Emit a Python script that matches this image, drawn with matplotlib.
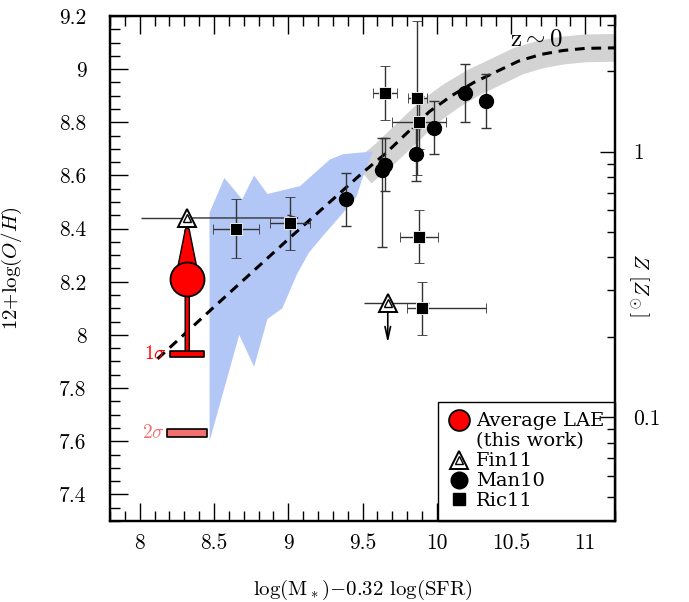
import numpy as np
import matplotlib
matplotlib.use('Agg')
import matplotlib.pyplot as plt
from matplotlib.lines import Line2D
from matplotlib.path import Path
from matplotlib.patches import FancyArrowPatch
from matplotlib.ticker import MultipleLocator, LogLocator, NullFormatter, FixedLocator
import matplotlib.patheffects as pe
from matplotlib.legend_handler import HandlerTuple

plt.rcParams['mathtext.fontset'] = 'cm'
plt.rcParams['font.family'] = ['cmr10', 'DejaVu Serif']
plt.rcParams['axes.unicode_minus'] = False

# ---------------- data ----------------
xlim = (7.8, 11.2)
ylim = (7.3, 9.2)
solar = 8.69

xticks = [8, 8.5, 9, 9.5, 10, 10.5, 11]
xticklabels = ['8', '8.5', '9', '9.5', '10', '10.5', '11']
yticks = [7.4, 7.6, 7.8, 8.0, 8.2, 8.4, 8.6, 8.8, 9.0, 9.2]
yticklabels = ['7.4', '7.6', '7.8', '8', '8.2', '8.4', '8.6', '8.8', '9', '9.2']
z_ticks = [0.1, 1]
z_ticklabels = ['0.1', '1']

# blue shaded region
blue_x = [8.47, 8.47, 8.57, 8.69, 8.77, 8.86, 9.08, 9.28, 9.37, 9.57,
          9.50, 9.46, 9.37, 9.23, 9.14, 9.06, 8.96, 8.86, 8.77, 8.67]
blue_y = [7.60, 8.46, 8.59, 8.51, 8.60, 8.53, 8.56, 8.66, 8.68, 8.69,
          8.59, 8.52, 8.46, 8.37, 8.31, 8.23, 8.10, 8.06, 7.88, 8.00]

# z~0 relation (dashed) and its scatter band
curve_x = [8.12, 8.49, 9.00, 9.28, 9.50, 9.65, 9.80, 9.95, 10.10, 10.25,
           10.40, 10.55, 10.70, 10.85, 11.00, 11.20]
curve_y = [7.91, 8.10, 8.36, 8.50, 8.61, 8.68, 8.76, 8.84, 8.90, 8.95,
           8.99, 9.03, 9.055, 9.07, 9.078, 9.08]
band_start = 9.45

# Man10
man_x = [9.39, 9.63, 9.65, 9.86, 9.98, 10.19, 10.33]
man_y = [8.51, 8.62, 8.64, 8.68, 8.78, 8.91, 8.88]
man_yerr_lo = [0.10, 0.29, 0.10, 0.10, 0.10, 0.11, 0.10]
man_yerr_hi = [0.10, 0.12, 0.10, 0.10, 0.10, 0.11, 0.10]

# Ric11
ric_x = [8.65, 9.01, 9.65, 9.87, 9.88, 9.88, 9.90]
ric_y = [8.40, 8.42, 8.91, 8.89, 8.80, 8.37, 8.10]
ric_xerr_lo = [0.155, 0.135, 0.08, 0.065, 0.18, 0.13, 0.10]
ric_xerr_hi = [0.155, 0.135, 0.08, 0.065, 0.18, 0.13, 0.43]
ric_yerr_lo = [0.11, 0.10, 0.10, 0.29, 0.10, 0.10, 0.10]
ric_yerr_hi = [0.11, 0.10, 0.10, 0.29, 0.10, 0.10, 0.10]

# Fin11
fin_x = [8.32, 9.67]
fin_y = [8.44, 8.12]
fin_xerr_lo = [0.31, 0.16]
fin_xerr_hi = [0.0, 0.28]
fin_x_arrow_to = [9.08, None]
fin_y_arrow_to = [None, 7.97]

# Average LAE (this work)
lae_x = 8.32
lae_y = 8.21
lae_up = 8.42
lae_1sig = 7.93
lae_2sig = 7.63

legend_labels = ['Average LAE', '(this work)', 'Fin11', 'Man10', 'Ric11']

# ---------------- figure ----------------
fig = plt.figure(figsize=(6.89, 6.02), dpi=100)
ax = fig.add_axes([0.1597, 0.1346, 0.7329, 0.8389])
ax.set_xlim(*xlim)
ax.set_ylim(*ylim)

cx = np.array(curve_x)
cy = np.array(curve_y)
m = cx >= band_start
ax.plot(cx[m], cy[m], color='#d3d3d3', lw=20, solid_capstyle='butt',
        solid_joinstyle='round', zorder=1)
ax.fill(blue_x, blue_y, color='#b3c7f7', lw=0, zorder=1.5)
ax.plot(cx, cy, color='black', ls=(0, (3.2, 2.2)), lw=2.2, zorder=3)

ecol = '#333333'
ax.errorbar(man_x, man_y, yerr=[man_yerr_lo, man_yerr_hi], fmt='o', color='black',
            ms=10, ecolor=ecol, elinewidth=1, capsize=3.5, capthick=1, zorder=4)
ax.errorbar(ric_x, ric_y, xerr=[ric_xerr_lo, ric_xerr_hi], yerr=[ric_yerr_lo, ric_yerr_hi],
            fmt='s', mfc='black', mec='white', mew=0.6, ms=8, ecolor=ecol,
            elinewidth=1, capsize=3.5, capthick=1, zorder=4)

ax.errorbar(fin_x, fin_y, xerr=[fin_xerr_lo, fin_xerr_hi], fmt='none', ecolor=ecol,
            elinewidth=1, capsize=0, zorder=4)
for xi, yi, xa, ya in zip(fin_x, fin_y, fin_x_arrow_to, fin_y_arrow_to):
    if xa is not None:
        ax.annotate('', xy=(xa, yi), xytext=(xi, yi),
                    arrowprops=dict(arrowstyle='->,head_length=0.7,head_width=0.2',
                                    color=ecol, lw=1, shrinkA=0, shrinkB=0), zorder=4)
    if ya is not None:
        ax.annotate('', xy=(xi, ya), xytext=(xi, yi),
                    arrowprops=dict(arrowstyle='->,head_length=0.9,head_width=0.2',
                                    color='black', lw=1.2, shrinkA=0, shrinkB=0), zorder=4)

# LAE
arr = FancyArrowPatch((lae_x, lae_1sig), (lae_x, lae_up),
                      arrowstyle='-|>,head_length=1.5,head_width=0.3', mutation_scale=18,
                      color='red', lw=2.0, shrinkA=0, shrinkB=0, zorder=7,
                      path_effects=[pe.Stroke(linewidth=4.0, foreground='black'), pe.Normal()])
ax.add_patch(arr)
bar_marker = Path([(-1, -0.18), (1, -0.18), (1, 0.18), (-1, 0.18), (-1, -0.18)],
                  [Path.MOVETO, Path.LINETO, Path.LINETO, Path.LINETO, Path.CLOSEPOLY])
ax.plot([lae_x], [lae_1sig], marker=bar_marker, ms=24.5, mfc='red', mec='black',
        mew=1.2, ls='none', zorder=8)
ax.plot([lae_x], [lae_2sig], marker=bar_marker, ms=29.5, mfc='#f07070', mec='black',
        mew=1.2, ls='none', zorder=8)
ax.plot([lae_x], [lae_y], 'o', ms=24.5, mfc='red', mec='black', mew=1.3, zorder=9)
ax.annotate(r'1$\sigma$', xy=(lae_x, lae_1sig), xytext=(-15, 0), textcoords='offset points',
            ha='right', va='center', color='red', fontsize=14)
ax.annotate(r'2$\sigma$', xy=(lae_x, lae_2sig), xytext=(-16.5, 0), textcoords='offset points',
            ha='right', va='center', color='#f07070', fontsize=14)

# Fin11 markers
ax.plot(fin_x, fin_y, '^', ms=13, mfc='white', mec='black', mew=1.4, ls='none', zorder=6)
ax.plot(fin_x, fin_y, '^', ms=6, mfc='none', mec='black', mew=1.0, ls='none', zorder=7)

ax.text(10.67, 9.11, r'z$\sim$0', ha='center', va='center', fontsize=18)

# axes styling
ax.set_xticks(xticks)
ax.set_xticklabels(xticklabels)
ax.set_yticks(yticks)
ax.set_yticklabels(yticklabels)
ax.xaxis.set_minor_locator(MultipleLocator(0.1))
ax.yaxis.set_minor_locator(MultipleLocator(0.05))
ax.tick_params(which='both', direction='in', top=True, right=False, width=1.0)
ax.tick_params(which='major', length=13)
ax.tick_params(which='minor', length=7)
ax.tick_params(axis='x', which='major', labelsize=15.5, pad=9)
ax.tick_params(axis='y', which='major', labelsize=15.5, pad=17)
for s in ax.spines.values():
    s.set_linewidth(1.6)

ax.set_xlabel(r'log(M$_*$)$-$0.32 log(SFR)', fontsize=15)
ax.xaxis.set_label_coords(0.5, -0.113)
ax.set_ylabel(r'12+log($O/H$)', fontsize=15)
ax.yaxis.set_label_coords(-0.17, 0.5)

# legend
h_lae = Line2D([], [], ls='none', marker='o', ms=15, mfc='red', mec='black', mew=1.3)
h_blank = Line2D([], [], ls='none')
h_f1 = Line2D([], [], ls='none', marker='^', ms=13, mfc='white', mec='black', mew=1.4)
h_f2 = Line2D([], [], ls='none', marker='^', ms=6, mfc='none', mec='black', mew=1.0)
h_man = Line2D([], [], ls='none', marker='o', ms=12, mfc='black', mec='black')
h_ric = Line2D([], [], ls='none', marker='s', ms=9, mfc='black', mec='black')
leg = ax.legend([h_lae, h_blank, (h_f1, h_f2), h_man, h_ric], legend_labels,
                handler_map={tuple: HandlerTuple(ndivide=1)},
                loc='lower right', bbox_to_anchor=(1, 0), borderaxespad=0,
                fancybox=False, edgecolor='black', framealpha=1,
                prop={'family': 'DejaVu Serif', 'size': 14},
                handlelength=1.0, handletextpad=0.4, labelspacing=0.1, borderpad=0.55)
leg.get_frame().set_linewidth(1.0)
leg.set_zorder(2.2)

# right metallicity axis
ax2 = ax.twinx()
ax2.set_yscale('log')
ax2.set_ylim(10 ** (ylim[0] - solar), 10 ** (ylim[1] - solar))
ax2.yaxis.set_major_locator(FixedLocator(z_ticks))
ax2.set_yticklabels(z_ticklabels)
ax2.yaxis.set_minor_locator(LogLocator(base=10, subs=np.arange(2, 10)))
ax2.yaxis.set_minor_formatter(NullFormatter())
ax2.tick_params(which='both', direction='in', width=1.0, labelsize=15.5, pad=13)
ax2.tick_params(which='major', length=11)
ax2.tick_params(which='minor', length=6)
for s in ax2.spines.values():
    s.set_linewidth(1.6)
ax2.text(1.046, 0.467, r'$Z$ [$Z_\odot$]', transform=ax2.transAxes, rotation=270,
         ha='center', va='center', fontsize=15)

fig.savefig('out.png', dpi=100)
